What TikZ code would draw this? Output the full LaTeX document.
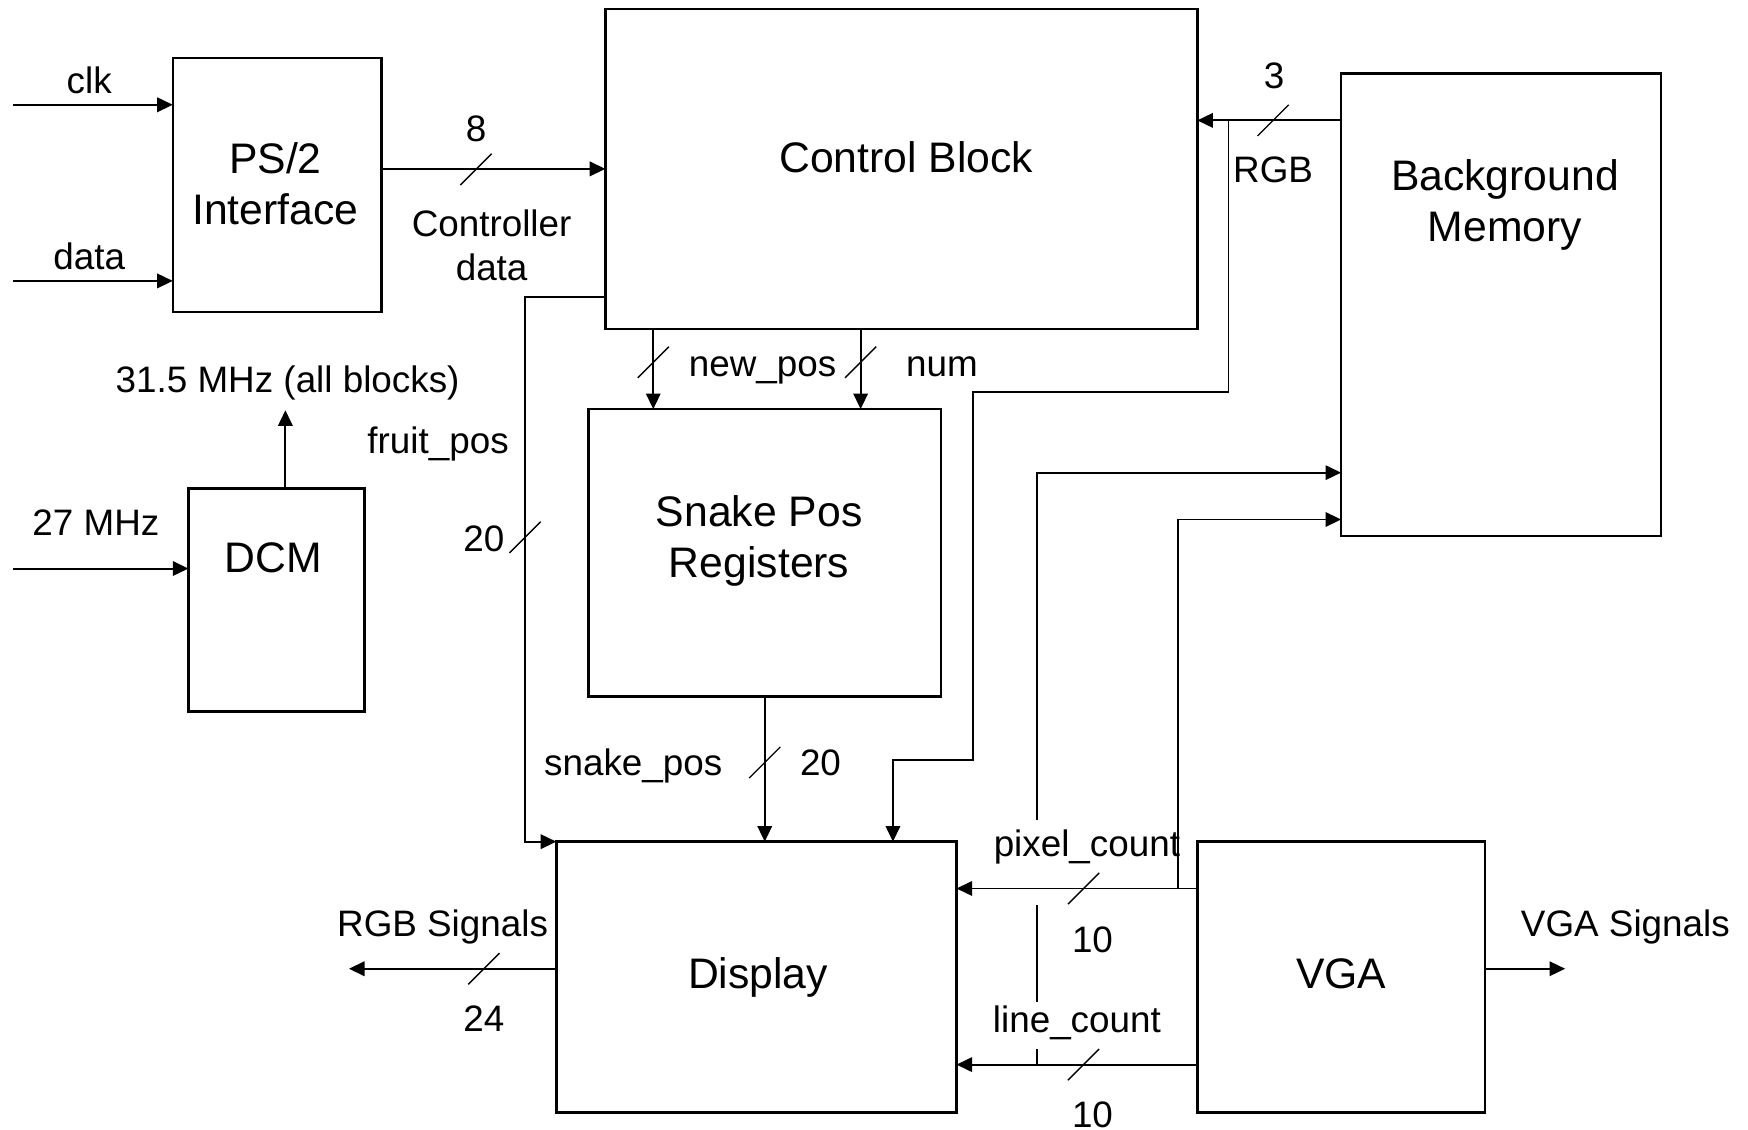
\documentclass[tikz,border=0pt]{standalone}
\usepackage{fontspec}
\setmainfont{Liberation Sans}
\usetikzlibrary{arrows.meta}

\begin{document}
\begin{tikzpicture}[x=0.1mm,y=-0.1mm,>={Triangle[length=1.4mm,width=1.3mm]},
  box/.style={draw,line width=0.65pt,anchor=north west,outer sep=0pt},
  sig/.style={->,line width=0.5pt},
  lbl/.style={font=\fontsize{9.4}{11.1}\selectfont,inner sep=0pt,anchor=base},
  big/.style={font=\fontsize{10.9}{13}\selectfont,inner sep=0pt,anchor=base},
  bus/.pic={\draw[line width=0.35pt] (-14,14) -- (14,-14);}]
\useasboundingbox (0,0) rectangle (1568,1013);

\node[box,minimum width=18.7mm,minimum height=22.8mm] (ps2) at (155,52) {};
\node[box,minimum width=53.1mm,minimum height=28.7mm] (ctrl) at (543,8) {};
\node[box,minimum width=28.7mm,minimum height=41.5mm] (bgm) at (1203,66) {};
\node[box,minimum width=31.6mm,minimum height=25.8mm] (snake) at (528,367) {};
\node[box,minimum width=15.8mm,minimum height=20.0mm] (dcm) at (169,438) {};
\node[box,minimum width=35.9mm,minimum height=24.3mm] (disp) at (499,755) {};
\node[box,minimum width=25.8mm,minimum height=24.3mm] (vga) at (1074,755) {};

\node[big,align=center,anchor=center] (ps2t) at (247,165) {PS/2\\Interface};
\node[big] (ctrlt) at (813,155) {Control Block};
\node[big,align=center,anchor=center] (bgmt) at (1350,184) {Background\\Memory};
\node[big,align=center,anchor=center] (snaket) at (681,485) {Snake Pos\\Registers};
\node[big] (dcmt) at (245,514) {DCM};
\node[big] (dispt) at (680,887) {Display};
\node[big] (vgat) at (1203,887) {VGA};

\coordinate (clkin) at (12,94);
\coordinate (datain) at (12,252);
\coordinate (refin) at (12,510);
\coordinate (clkout) at (256,368);
\coordinate (rgbtap) at (1102,108);
\coordinate (rgbbend) at (873,352);
\coordinate (rgbdrop) at (801,682);
\coordinate (fruitbend) at (471,266);
\coordinate (pixtap) at (1057,797);
\coordinate (linetap) at (930,955);
\coordinate (rgbout) at (313,869);
\coordinate (vgaout) at (1404,869);

\draw[sig] (clkin) -- (clkin -| ps2.west);
\draw[sig] (datain) -- (datain -| ps2.west);
\draw[sig] (refin) -- (refin -| dcm.west);
\draw[sig] (clkout |- dcm.north) -- (clkout);
\draw[sig] (ps2.east |- ctrl.west) -- (ctrl.west);
\draw[sig] (bgm.west |- rgbtap) -- (ctrl.east |- rgbtap);
\draw[sig] (rgbtap) |- (rgbbend) |- (rgbdrop) -- (rgbdrop |- disp.north);
\draw[sig] (586,0 |- ctrl.south) -- (586,0 |- snake.north);
\draw[sig] (772,0 |- ctrl.south) -- (772,0 |- snake.north);
\draw[sig] (snake.south) -- (snake.south |- disp.north);
\draw[sig] (ctrl.west |- fruitbend) -| (fruitbend |- disp.north) -- (disp.north west);
\draw[sig] (disp.west |- rgbout) -- (rgbout);
\draw[sig] (vga.east |- vgaout) -- (vgaout);
\draw[sig] (vga.west |- pixtap) -- (disp.east |- pixtap);
\draw[sig] (vga.west |- linetap) -- (disp.east |- linetap);
\draw[sig] (pixtap) |- (bgm.west |- 0,466);
\draw[sig] (linetap) -- ++(0,-14) ++(0,-42) -- ++(0,-87) ++(0,-76) |- (bgm.west |- 0,424);

\pic at (427,152) {bus};
\pic at (1142,108) {bus};
\pic at (586,325) {bus};
\pic at (772,325) {bus};
\pic at (471,482) {bus};
\pic at (686,684) {bus};
\pic at (434,869) {bus};
\pic at (972,797) {bus};
\pic at (972,955) {bus};

\node[lbl] (clkl) at (80,84) {clk};
\node[lbl] (datal) at (80,242) {data};
\node[lbl] (w8) at (427,127) {8};
\node[lbl,align=center,anchor=center] (ctrldata) at (441,220) {Controller\\data};
\node[lbl] (fastclk) at (258,352) {31.5 MHz (all blocks)};
\node[lbl] (slowclk) at (86,480) {27 MHz};
\node[lbl] (fruit) at (393,407) {fruit\_pos};
\node[lbl] (w20a) at (434,495) {20};
\node[lbl] (newpos) at (684,338) {new\_pos};
\node[lbl] (numl) at (845,338) {num};
\node[lbl] (w3) at (1143,79) {3};
\node[lbl] (rgbl) at (1142,164) {RGB};
\node[lbl] (snakepos) at (568,696) {snake\_pos};
\node[lbl] (w20b) at (736,696) {20};
\node[lbl] (rgbsig) at (397,840) {RGB Signals};
\node[lbl] (w24) at (434,925) {24};
\node[lbl] (vgasig) at (1458,840) {VGA Signals};
\node[lbl] (pixl) at (975,768) {pixel\_count};
\node[lbl] (w10a) at (980,854) {10};
\node[lbl] (linel) at (966,926) {line\_count};
\node[lbl] (w10b) at (980,1011) {10};
\end{tikzpicture}
\end{document}
